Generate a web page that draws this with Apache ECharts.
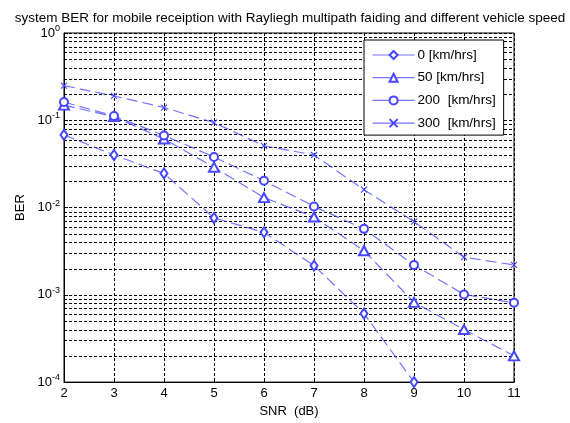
<!DOCTYPE html>
<html>
<head>
<meta charset="utf-8">
<script src="https://cdn.jsdelivr.net/npm/echarts@6/dist/echarts.min.js"></script>
<style>
html,body{margin:0;padding:0;background:#fff;}
#chart{width:570px;height:423px;}
</style>
</head>
<body>
<div id="chart"></div>
<script>
// SNR points (dB)
const snr = [2, 3, 4, 5, 6, 7, 8, 9, 10, 11];
// BER for each vehicle speed
const ber0   = [0.068, 0.040, 0.0246, 0.0076, 0.0052, 0.00216, 0.00061, 0.0001];
const ber50  = [0.149, 0.110, 0.061, 0.029, 0.013, 0.0078, 0.0032, 0.00082, 0.0004, 0.0002];
const ber200 = [0.162, 0.112, 0.067, 0.038, 0.0203, 0.0103, 0.0057, 0.0022, 0.00101, 0.00081];
const ber300 = [0.25, 0.19, 0.14, 0.094, 0.051, 0.040, 0.016, 0.0069, 0.0027, 0.0022];
const seriesNames = ['0 [km/hrs]', '50 [km/hrs]', '200  [km/hrs]', '300  [km/hrs]'];
const xTicks = [2, 3, 4, 5, 6, 7, 8, 9, 10, 11];
const yDecades = [-4, -3, -2, -1, 0];

const FONT = 'Liberation Sans, Arial, sans-serif';
const LINE = 'rgba(70,70,255,0.75)';
const MARK = '#4646ff';
const X_MIN = xTicks[0], X_MAX = xTicks[xTicks.length - 1];

// minor grid lines at 2..9 x 10^k
const minorVals = [];
for (let k = yDecades[0]; k < yDecades[yDecades.length - 1]; k++) {
  for (let m = 2; m <= 9; m++) minorVals.push(m * Math.pow(10, k));
}

const pair = (ys) => ys.map((y, i) => [snr[i], y]);

function lineSeries(name, data, symbol, size, extra) {
  return Object.assign({
    name: name,
    type: 'line',
    data: pair(data),
    symbol: symbol,
    symbolSize: size,
    showAllSymbol: true,
    lineStyle: { color: LINE, width: 1.2, type: [11, 5] },
    itemStyle: { color: MARK, borderWidth: 0.8 },
    emphasis: { disabled: true },
    z: 5
  }, extra || {});
}

const chart = echarts.init(document.getElementById('chart'), null, { renderer: 'canvas' });
chart.setOption({
  backgroundColor: '#fff',
  animation: false,
  title: {
    text: 'system BER for mobile receiption with Rayliegh multipath faiding and different vehicle speed',
    left: 285,
    textAlign: 'center',
    top: 6,
    textStyle: { fontFamily: FONT, fontSize: 13.5, fontWeight: 'normal', color: '#000' }
  },
  grid: {
    left: 64, right: 56, top: 33, bottom: 37,
    show: true, borderColor: '#000', borderWidth: 1, backgroundColor: '#fff'
  },
  legend: {
    orient: 'vertical',
    left: 364, top: 40,
    backgroundColor: '#fff',
    borderColor: '#000', borderWidth: 1, borderRadius: 0,
    padding: [8, 8, 5, 8],
    itemWidth: 42, itemHeight: 10, itemGap: 8.7,
    lineStyle: { type: 'solid', color: LINE, width: 1.2 },
    textStyle: { fontFamily: FONT, fontSize: 13.5, color: '#000', padding: [0, 0, 0, -2] },
    data: seriesNames
  },
  xAxis: {
    type: 'value',
    min: X_MIN, max: X_MAX, interval: 1,
    name: 'SNR  (dB)', nameLocation: 'middle', nameGap: 21,
    nameTextStyle: { fontFamily: FONT, fontSize: 13, color: '#000' },
    axisLine: { lineStyle: { color: '#000' } },
    axisTick: { inside: true, length: 4, lineStyle: { color: '#000' } },
    axisLabel: { fontFamily: FONT, fontSize: 13, color: '#000', margin: 5,
      formatter: v => xTicks.includes(v) ? String(v) : '' },
    splitLine: { show: true, lineStyle: { color: '#000', type: [3, 2], width: 1 } }
  },
  yAxis: {
    type: 'log', logBase: 10,
    min: Math.pow(10, yDecades[0]), max: Math.pow(10, yDecades[yDecades.length - 1]),
    name: 'BER', nameLocation: 'middle', nameGap: 36, nameRotate: 90,
    nameTextStyle: { fontFamily: FONT, fontSize: 13, color: '#000' },
    axisLine: { show: true, lineStyle: { color: '#000' } },
    axisTick: { show: true, inside: true, length: 4, lineStyle: { color: '#000' } },
    axisLabel: {
      fontFamily: FONT, fontSize: 13, color: '#000', margin: 4,
      formatter: v => '10{e|' + Math.round(Math.log10(v)) + '}',
      rich: { e: { fontFamily: FONT, fontSize: 9, color: '#000', padding: [0, 0, 9, 0] } }
    },
    splitLine: { show: true, lineStyle: { color: '#000', type: [3, 2], width: 1 } }
  },
  series: [
    {
      // minor log grid lines across the plot
      type: 'custom',
      silent: true,
      z: 1,
      data: minorVals.map(v => [X_MIN, X_MAX, v]),
      encode: { x: [0, 1], y: 2 },
      renderItem: (params, api) => {
        const a = api.coord([api.value(0), api.value(2)]);
        const b = api.coord([api.value(1), api.value(2)]);
        return {
          type: 'line',
          shape: { x1: a[0], y1: Math.round(a[1]) + 0.5, x2: b[0], y2: Math.round(b[1]) + 0.5 },
          style: { stroke: '#000', lineWidth: 1, lineDash: [3, 2] }
        };
      }
    },
    lineSeries(seriesNames[0], ber0, 'emptyDiamond', [7, 10]),
    lineSeries(seriesNames[1], ber50, 'emptyTriangle', [10, 9]),
    lineSeries(seriesNames[2], ber200, 'emptyCircle', 8),
    lineSeries(seriesNames[3], ber300, 'path://M0,0L10,10M10,0L0,10', 6,
      { itemStyle: { color: MARK, borderColor: MARK, borderWidth: 1.1 } })
  ]
});
</script>
</body>
</html>
